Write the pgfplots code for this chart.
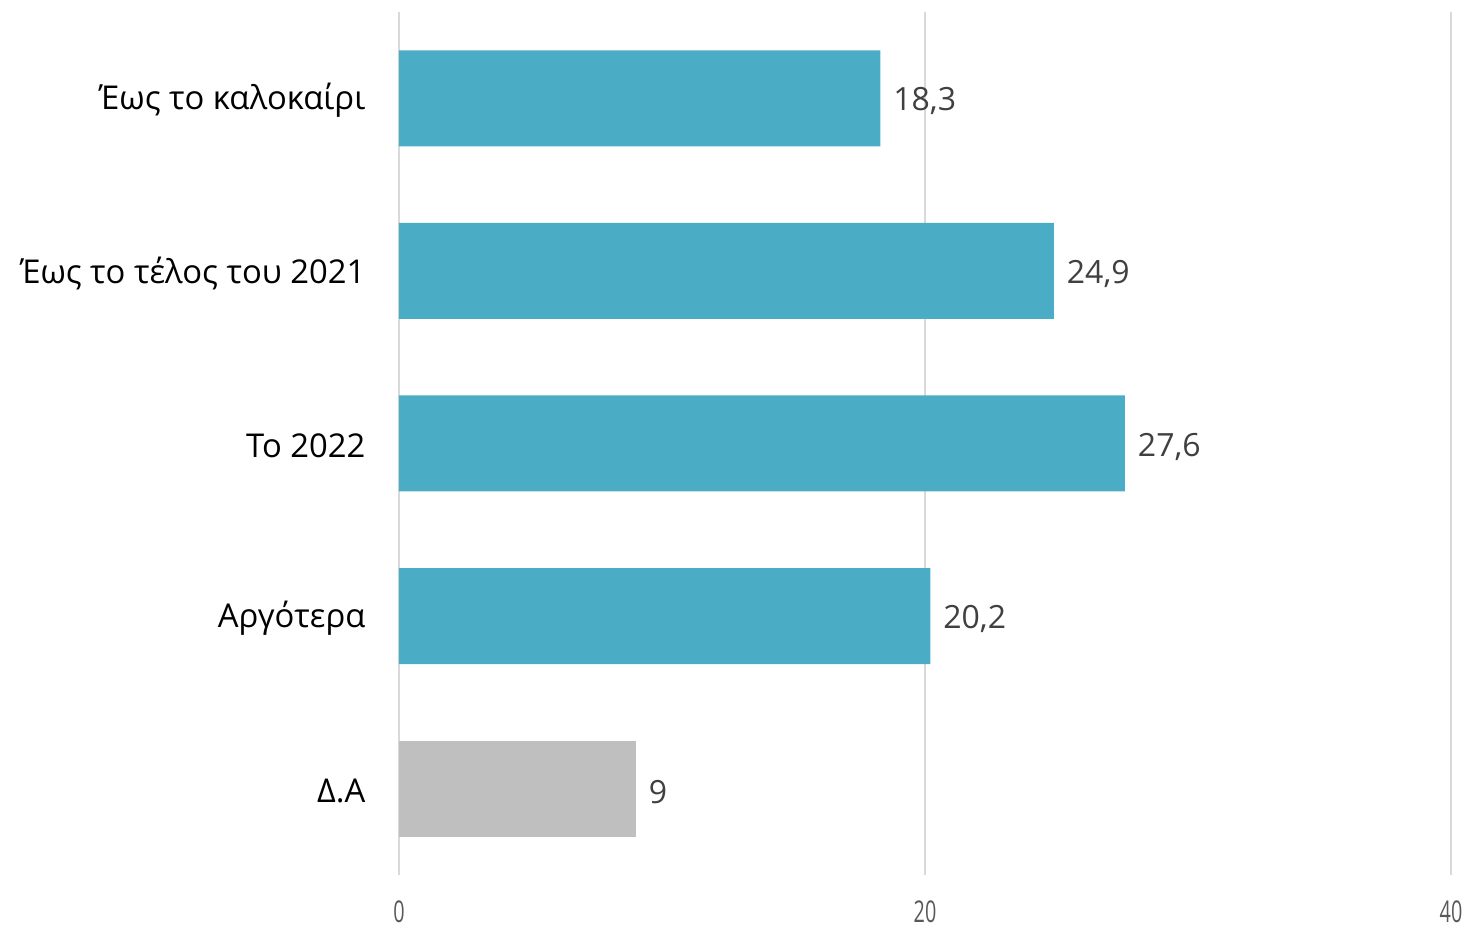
\documentclass[border=0pt]{standalone}
\usepackage{pgfplots}
\pgfplotsset{compat=1.18}
\usepackage{fontspec}
\setmainfont{Open Sans}
\definecolor{teal}{HTML}{4BACC6}
\definecolor{grayb}{HTML}{BFBFBF}
\definecolor{vlab}{HTML}{404040}
\definecolor{tlab}{HTML}{595959}
\definecolor{gridc}{HTML}{D9D9D9}
\begin{document}
\begin{tikzpicture}
\begin{axis}[
  scale only axis,
  width=526pt, height=431.5pt,
  xbar, bar width=48pt, bar shift=0pt,
  xmin=0, xmax=40,
  ymin=-0.5, ymax=4.5,
  y dir=reverse,
  axis line style={draw=none},
  xtick={0,20,40},
  xmajorgrids, major grid style={gridc, line width=0.7pt},
  tick style={draw=none},
  ytick={0,1,2,3,4},
  yticklabels={Έως το καλοκαίρι, Έως το τέλος του 2021, Το 2022, Αργότερα, Δ.Α},
  yticklabel style={font=\fontsize{16.4}{20}\selectfont, black, xshift=-9pt, yshift=-1.2pt},
  xticklabel={\scalebox{0.66}[1]{\pgfmathprintnumber{\tick}}},
  xticklabel style={font=\fontsize{15}{17}\selectfont, tlab, yshift=-9.5pt},
  /pgf/number format/assume math mode=true,
  nodes near coords,
  nodes near coords style={font=\fontsize{16}{20}\selectfont, vlab, xshift=3pt, yshift=-1.5pt},
  /pgf/number format/use comma,
  clip=false,
]
\addplot[fill=teal, draw=none] coordinates {(18.3,0) (24.9,1) (27.6,2) (20.2,3)};
\addplot[fill=grayb, draw=none] coordinates {(9,4)};
\coordinate (bl) at (axis description cs:0,0);
\coordinate (tr) at (axis description cs:1,1);
\end{axis}
\pgfresetboundingbox
\path ([xshift=-199.5pt,yshift=-28.5pt]bl) rectangle ([xshift=10pt,yshift=6pt]tr);
\end{tikzpicture}
\end{document}
